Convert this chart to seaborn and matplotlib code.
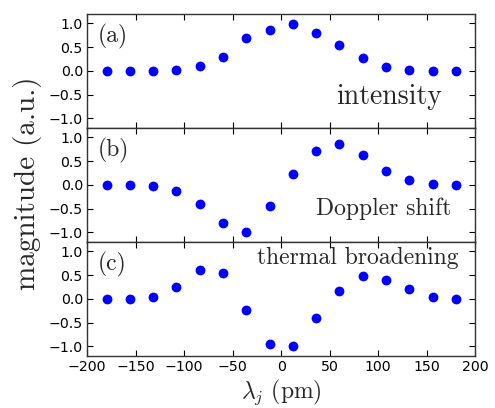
import numpy as np
import pandas as pd
import matplotlib
matplotlib.use("Agg")
import matplotlib.pyplot as plt
import seaborn as sns

# Data
wavelengths = [-180, -156, -132, -108, -84, -60, -36, -12, 12, 36, 60, 84, 108, 132, 156, 180]
intensity = [0.0, 0.0, 0.0, 0.03, 0.10, 0.30, 0.70, 0.86, 0.99, 0.81, 0.55, 0.28, 0.09, 0.02, 0.0, 0.0]
doppler = [0.0, 0.0, -0.03, -0.12, -0.41, -0.79, -1.0, -0.45, 0.24, 0.71, 0.87, 0.64, 0.30, 0.11, 0.03, 0.0]
thermal = [0.0, 0.0, 0.05, 0.25, 0.60, 0.54, -0.23, -0.95, -1.0, -0.41, 0.17, 0.48, 0.41, 0.21, 0.04, 0.01]
panel_tags = ["(a)", "(b)", "(c)"]
panel_names = ["intensity", "Doppler shift", "thermal broadening"]
x_ticks = [-200, -150, -100, -50, 0, 50, 100, 150, 200]
y_ticks = [-1.0, -0.5, 0.0, 0.5, 1.0]

sns.set_style("white")
plt.rcParams.update({
    "font.family": ["DejaVu Sans"],
    "mathtext.fontset": "cm",
    "xtick.direction": "in",
    "ytick.direction": "in",
    "xtick.top": True,
    "ytick.right": True,
    "xtick.bottom": True,
    "ytick.left": True,
    "xtick.major.size": 4,
    "ytick.major.size": 4,
    "xtick.color": "black",
    "ytick.color": "black",
    "axes.edgecolor": "#333333",
    "axes.linewidth": 1.0,
})

fig, axes = plt.subplots(3, 1, sharex=True, figsize=(4.95, 4.08), dpi=100)
fig.subplots_adjust(left=0.176, right=0.96, bottom=0.1275, top=0.9657, hspace=0)

series = [intensity, doppler, thermal]
text_specs = [(166, -0.55, 20), (175, -0.50, 17), (183, 0.87, 17)]
serif = "cmr10"

for ax, vals, tag, name, (tx, ty, fs) in zip(axes, series, panel_tags, panel_names, text_specs):
    df = pd.DataFrame({"wl": wavelengths, "val": vals})
    sns.scatterplot(data=df, x="wl", y="val", ax=ax, color="blue", s=50,
                    linewidth=0, legend=False)
    ax.set_xlim(-200, 200)
    ax.set_ylim(-1.2, 1.2)
    ax.set_yticks(y_ticks)
    ax.set_xticks(x_ticks)
    ax.set_xlabel("")
    ax.set_ylabel("")
    ax.tick_params(labelsize=10.2, pad=3)
    ax.text(-189, 0.72, tag, fontsize=17, family=serif, ha="left", va="center")
    ax.text(tx, ty, name, fontsize=fs, family=serif, ha="right", va="center")

fig.text(0.568, 0.003, r"$\lambda_j$ (pm)", fontsize=17, family=serif,
         ha="center", va="bottom")
fig.text(0.055, 0.55, "magnitude (a.u.)", rotation=90, fontsize=21, family=serif,
         ha="center", va="center")

fig.savefig("out.png", dpi=100)
